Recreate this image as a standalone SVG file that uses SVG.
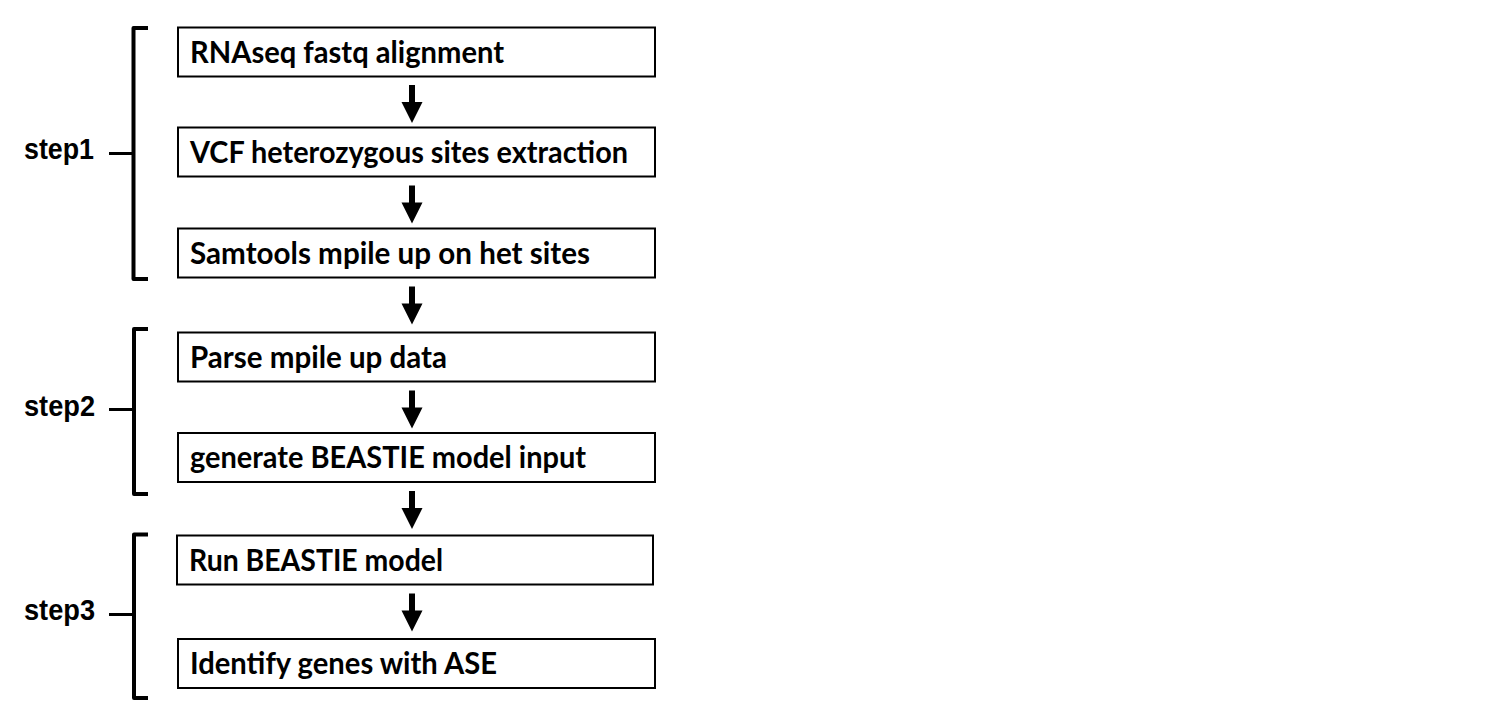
<svg xmlns="http://www.w3.org/2000/svg" width="1496" height="726" viewBox="0 0 1496 726">
  <defs>
    <style>
      .box { fill: #ffffff; stroke: #000000; stroke-width: 2; }
      .bt { font-family: Lato, "Open Sans", sans-serif; font-weight: 700; font-size: 30px; fill: #000000; }
      .st { font-family: "Liberation Sans", Arial, sans-serif; font-weight: 700; font-size: 29px; fill: #000000; }
      .br { fill: none; stroke: #000000; stroke-width: 4; stroke-linejoin: round; }
      .dash { stroke: #000000; stroke-width: 3; }
      .arrow { fill: #000000; }
    </style>
    <path id="arr" d="M -3 0 L 3 0 L 3 17 L 10.5 17 L 0 38 L -10.5 17 L -3 17 Z"/>
  </defs>
  <rect width="1496" height="726" fill="#ffffff"/>

  <g id="node-1">
    <rect class="box" x="178" y="27.5" width="477" height="49"/>
    <text class="bt" x="190" y="62.5" textLength="314" lengthAdjust="spacingAndGlyphs">RNAseq fastq alignment</text>
  </g>
  <g id="node-2">
    <rect class="box" x="178" y="127.5" width="477" height="49"/>
    <text class="bt" x="190" y="162.5" textLength="438" lengthAdjust="spacingAndGlyphs">VCF heterozygous sites extraction</text>
  </g>
  <g id="node-3">
    <rect class="box" x="178" y="228.5" width="477" height="49"/>
    <text class="bt" x="190" y="263.5" textLength="400" lengthAdjust="spacingAndGlyphs">Samtools mpile up on het sites</text>
  </g>
  <g id="node-4">
    <rect class="box" x="178" y="332.5" width="477" height="49"/>
    <text class="bt" x="190" y="367.5" textLength="257" lengthAdjust="spacingAndGlyphs">Parse mpile up data</text>
  </g>
  <g id="node-5">
    <rect class="box" x="178" y="433" width="477" height="49"/>
    <text class="bt" x="190" y="468" textLength="396" lengthAdjust="spacingAndGlyphs">generate BEASTIE model input</text>
  </g>
  <g id="node-6">
    <rect class="box" x="177" y="535.5" width="476" height="49"/>
    <text class="bt" x="189" y="570.5" textLength="254" lengthAdjust="spacingAndGlyphs">Run BEASTIE model</text>
  </g>
  <g id="node-7">
    <rect class="box" x="178" y="639" width="477" height="49"/>
    <text class="bt" x="190" y="674" textLength="307" lengthAdjust="spacingAndGlyphs">Identify genes with ASE</text>
  </g>

  <g id="step-1">
    <path class="br" d="M 148 28 L 133.5 28 L 133.5 279 L 148 279"/>
    <line class="dash" x1="109" y1="153.5" x2="133" y2="153.5"/>
    <text class="st" x="24" y="159" textLength="70" lengthAdjust="spacingAndGlyphs">step1</text>
  </g>
  <g id="step-2">
    <path class="br" d="M 148 329 L 134 329 L 134 494 L 148 494"/>
    <line class="dash" x1="109" y1="409.5" x2="134" y2="409.5"/>
    <text class="st" x="24" y="415.5" textLength="71" lengthAdjust="spacingAndGlyphs">step2</text>
  </g>
  <g id="step-3">
    <path class="br" d="M 148 534.5 L 134 534.5 L 134 698 L 148 698"/>
    <line class="dash" x1="109" y1="614.5" x2="134" y2="614.5"/>
    <text class="st" x="24" y="619.5" textLength="71" lengthAdjust="spacingAndGlyphs">step3</text>
  </g>

  <g id="connectors" class="arrow">
    <use href="#arr" x="412" y="85"/>
    <use href="#arr" x="412" y="185.5"/>
    <use href="#arr" x="412" y="286.5"/>
    <use href="#arr" x="412" y="390.5"/>
    <use href="#arr" x="412" y="491"/>
    <use href="#arr" x="412" y="593.5"/>
  </g>
</svg>
